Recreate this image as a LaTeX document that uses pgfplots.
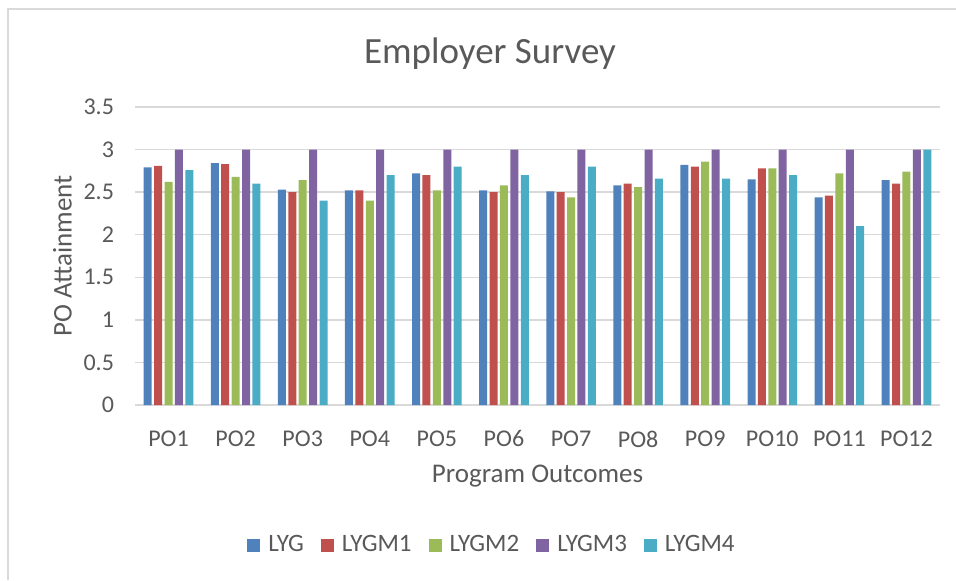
\documentclass[border=0pt]{standalone}
\usepackage{pgfplots}
\pgfplotsset{compat=1.18}
\usepackage{fontspec}
\setmainfont{Carlito}

\definecolor{txt}{HTML}{595959}
\definecolor{gridc}{HTML}{D9D9D9}
\definecolor{cA}{HTML}{4F81BD}
\definecolor{cB}{HTML}{C0504D}
\definecolor{cC}{HTML}{9BBB59}
\definecolor{cD}{HTML}{8064A2}
\definecolor{cE}{HTML}{4BACC6}

\begin{document}
\begin{tikzpicture}
  \useasboundingbox (0,0) rectangle (478pt,290pt);
  % outer chart frame (only left and top edges show in the crop)
  \draw[gridc, line width=0.75pt] (4pt,0) -- (4pt,285.5pt) -- (478pt,285.5pt);
  \node[txt, font=\fontsize{18.5}{22}\selectfont] at (245pt,263pt) {Employer Survey};

  \begin{axis}[
      at={(67.5pt,87.5pt)}, anchor=south west,
      scale only axis,
      width=402.5pt, height=149pt,
      ybar=1.2pt, bar width=4pt,
      xmin=-0.5, xmax=11.5,
      ymin=0, ymax=3.5,
      ytick={0,0.5,...,3.5},
      xtick=data,
      xticklabels={PO1,PO2,PO3,PO4,PO5,PO6,PO7,PO8,PO9,PO10,PO11,PO12},
      /pgf/number format/assume math mode=true,
      yticklabel style={/pgf/number format/fixed, xshift=-7pt},
      xticklabel style={yshift=-5pt},
      tick label style={font=\fontsize{12}{14}\selectfont, text=txt},
      axis line style={draw=none},
      major tick style={draw=none},
      ymajorgrids, grid style={gridc, line width=0.75pt},
      xlabel={Program Outcomes},
      ylabel={PO Attainment},
      label style={font=\fontsize{13.5}{16}\selectfont, text=txt},
      xlabel style={at={(axis description cs:0.5,-0.24)}, anchor=center},
      ylabel style={at={(axis description cs:-0.09,0.5)}, anchor=center},
      legend columns=5,
      legend image code/.code={\fill (0pt,-3.25pt) rectangle (6.5pt,3.25pt);},
      legend style={at={(axis description cs:0.4447,-0.47)}, anchor=center,
        draw=none, font=\fontsize{12.5}{14}\selectfont, text=txt,
        /tikz/every odd column/.append style={column sep=2pt},
        /tikz/every even column/.append style={column sep=6.5pt}},
    ]
    \addplot[fill=cA, draw=none] coordinates {
      (0,2.79) (1,2.84) (2,2.53) (3,2.52) (4,2.72) (5,2.52)
      (6,2.51) (7,2.58) (8,2.82) (9,2.65) (10,2.44) (11,2.64)};
    \addlegendentry{LYG}
    \addplot[fill=cB, draw=none] coordinates {
      (0,2.81) (1,2.83) (2,2.50) (3,2.52) (4,2.70) (5,2.50)
      (6,2.50) (7,2.60) (8,2.80) (9,2.78) (10,2.46) (11,2.60)};
    \addlegendentry{LYGM1}
    \addplot[fill=cC, draw=none] coordinates {
      (0,2.62) (1,2.68) (2,2.64) (3,2.40) (4,2.52) (5,2.58)
      (6,2.44) (7,2.56) (8,2.86) (9,2.78) (10,2.72) (11,2.74)};
    \addlegendentry{LYGM2}
    \addplot[fill=cD, draw=none] coordinates {
      (0,3) (1,3) (2,3) (3,3) (4,3) (5,3)
      (6,3) (7,3) (8,3) (9,3) (10,3) (11,3)};
    \addlegendentry{LYGM3}
    \addplot[fill=cE, draw=none] coordinates {
      (0,2.76) (1,2.60) (2,2.40) (3,2.70) (4,2.80) (5,2.70)
      (6,2.80) (7,2.66) (8,2.66) (9,2.70) (10,2.10) (11,3.00)};
    \addlegendentry{LYGM4}
  \end{axis}
\end{tikzpicture}
\end{document}
